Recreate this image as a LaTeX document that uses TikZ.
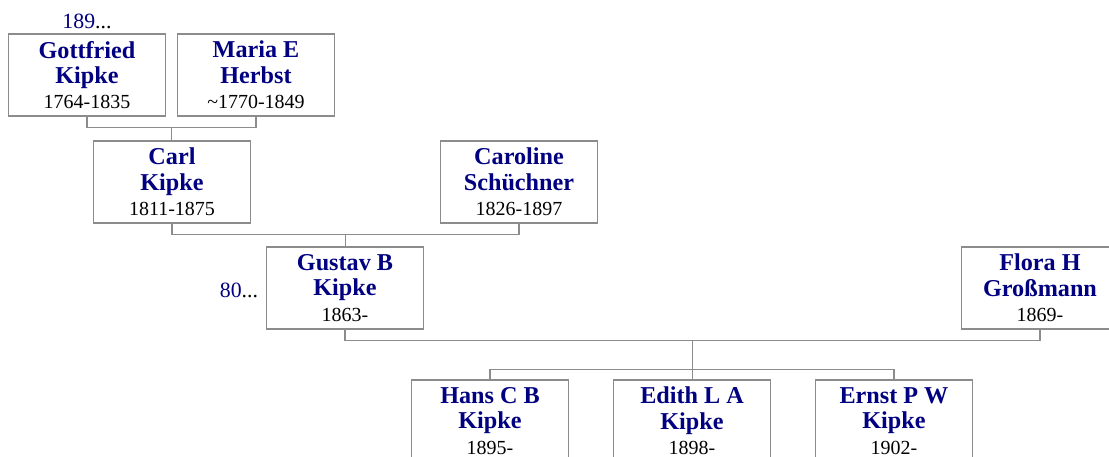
\documentclass[tikz,border=0pt]{standalone}
\usepackage{fontspec}
\setmainfont{Liberation Serif}
\usetikzlibrary{calc,positioning}
\definecolor{kpnavy}{HTML}{000080}
\definecolor{kpframe}{HTML}{8C8C8C}
\newcommand{\kpname}{\bfseries\color{kpnavy}}
\newcommand{\kpdate}{\mdseries\fontsize{14.2}{18}\selectfont\color{black}}
\tikzset{
  personbox/.style={draw=kpframe,fill=white,line width=0.8pt,
    minimum width=3.925cm,minimum height=2.05cm,text width=3.8cm,
    align=flush center,inner sep=0pt,font=\fontsize{17.2}{18}\selectfont},
  famline/.style={draw=kpframe,line width=0.8pt},
  morelabel/.style={inner sep=0pt,font=\fontsize{15.5}{18}\selectfont},
}
\begin{document}
\begin{tikzpicture}[x=0.025cm,y=-0.025cm]
        \useasboundingbox (0,0) rectangle (1109,457);
        \node[personbox] (gottfried) at (87,75) {\kpname Gottfried\\Kipke\\\kpdate 1764-1835};
        \node[personbox] (maria) at (256,75) {\kpname Maria E\\Herbst\\\kpdate \textasciitilde1770-1849};
        \node[personbox] (carl) at (172,182) {\kpname Carl\\Kipke\\\kpdate 1811-1875};
        \node[personbox] (caroline) at (519,182) {\kpname Caroline\\Schüchner\\\kpdate 1826-1897};
        \node[personbox] (gustav) at (345,288) {\kpname Gustav B\\Kipke\\\kpdate 1863-};
        \node[personbox] (flora) at (1040,288) {\kpname Flora H\\Großmann\\\kpdate 1869-};
        \foreach \n/\x/\first/\yr in {hans/490/Hans C B/1895,edith/692/Edith L A/1898,ernst/894/Ernst P W/1902}
          {\node[personbox] (\n) at (\x,421) {\kpname \first\\Kipke\\\kpdate \yr-};}
        \node[morelabel] (moregottfried) at (87,21) {\textcolor{kpnavy}{189}...};
        \node[morelabel] (moregustav) at (239,290) {\textcolor{kpnavy}{80}...};
        \coordinate (u1) at ($(gottfried.south)!0.5!(maria.south)+(0,11)$);
        \draw[famline] (gottfried.south) |- (u1) -| (maria.south);
        \draw[famline] (u1) -- (u1 |- carl.north);
        \coordinate (u2) at ($(carl.south)!0.5!(caroline.south)+(0,11)$);
        \draw[famline] (carl.south) |- (u2) -| (caroline.south);
        \draw[famline] (u2) -- (u2 |- gustav.north);
        \coordinate (u3) at ($(gustav.south)!0.5!(flora.south)+(0,11)$);
        \draw[famline] (gustav.south) |- (u3) -| (flora.south);
        \coordinate (k3) at ($(u3)+(0,29)$);
        \draw[famline] (u3) -- (k3);
        \draw[famline] (hans.north) |- (k3) -| (ernst.north);
        \draw[famline] (k3) -- (k3 |- edith.north);
      \end{tikzpicture}
\end{document}
